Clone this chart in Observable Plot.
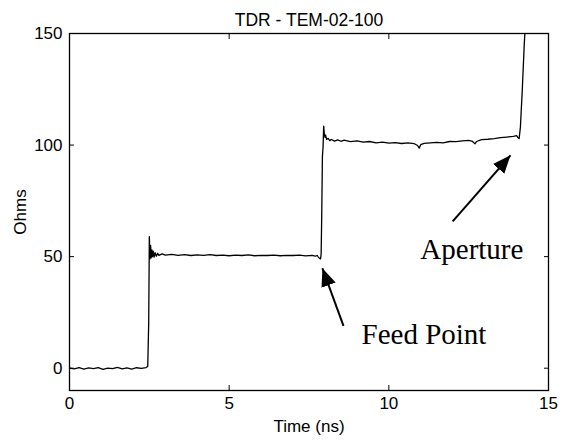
<!DOCTYPE html>
<html>
<head>
<meta charset="utf-8">
<script src="https://cdn.jsdelivr.net/npm/d3@7"></script>
<script src="https://cdn.jsdelivr.net/npm/@observablehq/plot@0.6"></script>
<style>
  html, body { margin: 0; padding: 0; background: #fff; }
  #chart svg { display: block; }
</style>
</head>
<body>
<div id="chart"></div>
<script>
// ---- Data ----
const titleText = ["TDR - TEM-02-100"];
const xTicks = [0, 5, 10, 15];
const yTicks = [0, 50, 100, 150];

const timeNs = [
  0.00, 0.15, 0.30, 0.45, 0.60, 0.75, 0.90, 1.05, 1.20, 1.35, 1.50, 1.65, 1.80, 1.95, 2.10, 2.25, 2.40, 2.45,
  2.48, 2.50, 2.52, 2.54, 2.56, 2.58, 2.60, 2.62, 2.65, 2.68, 2.72, 2.76, 2.80, 2.90, 3.00,
  3.20, 3.40, 3.60, 3.80, 4.00, 4.20, 4.40, 4.60, 4.80, 5.00, 5.20, 5.40, 5.60, 5.80, 6.00,
  6.20, 6.40, 6.60, 6.80, 7.00, 7.20, 7.40, 7.60, 7.70, 7.76, 7.80, 7.84, 7.86, 7.88,
  7.90, 7.92, 7.94, 7.96, 7.98, 8.00, 8.02, 8.05, 8.10, 8.15, 8.20, 8.30, 8.40, 8.50, 8.60,
  8.80, 9.00, 9.20, 9.40, 9.60, 9.80, 10.00, 10.20, 10.40, 10.60, 10.80, 10.90, 10.95, 11.00,
  11.10, 11.30, 11.50, 11.70, 11.90, 12.10, 12.30, 12.50, 12.60, 12.70, 12.75, 12.90, 13.10,
  13.30, 13.50, 13.70, 13.90, 14.00, 14.05, 14.08, 14.12, 14.18, 14.24, 14.28, 14.35
];
const ohms = [
  0.0, -0.3, 0.2, -0.4, 0.1, -0.2, 0.3, -0.5, 0.0, -0.2, 0.4, -0.3, 0.1, -0.4, 0.2, -0.1, 0.3, 0.8,
  20, 59, 49, 55, 49.5, 53, 50, 52.5, 49.8, 51.8, 50.2, 51.5, 50.6, 51.2, 50.7,
  51.0, 50.6, 50.9, 50.5, 50.8, 50.6, 50.9, 50.5, 50.7, 50.4, 50.7, 50.5, 50.8, 50.4, 50.6,
  50.5, 50.7, 50.4, 50.6, 50.5, 50.7, 50.3, 50.6, 50.2, 50.5, 49.6, 49.2, 49.0, 51,
  70, 95, 99, 108.5, 105, 103.5, 104.5, 102.5, 103, 102, 102.5, 101.8, 102.3, 101.7, 102.2,
  101.5, 101.9, 101.3, 101.6, 101.0, 101.3, 100.9, 101.1, 100.7, 101.0, 100.6, 99.8, 98.6, 100.2,
  100.8, 101.0, 101.2, 101.0, 101.6, 101.5, 101.9, 102.1, 101.8, 100.6, 101.6, 102.4, 102.6,
  102.9, 103.3, 103.6, 103.9, 104.2, 103.2, 102.9, 108, 125, 145, 155, 170
];

// annotations
const noteLabels = ["Feed Point", "Aperture"];
const noteX = [11.1, 12.6];
const noteY = [10.8, 49.0];
const arrowX1 = [8.58, 12.00];
const arrowY1 = [19.0, 65.8];
const arrowX2 = [7.92, 13.81];
const arrowY2 = [44.8, 95.4];

// ---- Build tables ----
const trace = timeNs.map((t, i) => ({t, v: ohms[i]}));
const notes = noteLabels.map((s, i) => ({s, x: noteX[i], y: noteY[i]}));
const arrows = arrowX1.map((x1, i) => ({x1, y1: arrowY1[i], x2: arrowX2[i], y2: arrowY2[i]}));

function triangleHead(color) {
  const m = d3.create("svg:marker")
    .attr("viewBox", "-18 -8 18 16")
    .attr("markerWidth", 18)
    .attr("markerHeight", 16)
    .attr("markerUnits", "userSpaceOnUse")
    .attr("refX", 0)
    .attr("refY", 0)
    .attr("orient", "auto");
  m.append("path").attr("d", "M-18,-7.5L0,0L-18,7.5Z").attr("fill", "black").attr("stroke", "none");
  return m.node();
}

const chart = Plot.plot({
  width: 567,
  height: 442,
  marginLeft: 69,
  marginRight: 19,
  marginTop: 33,
  marginBottom: 52,
  x: {domain: [0, 15]},
  y: {domain: [-10, 150]},
  style: {fontFamily: "'Liberation Sans', Arial, sans-serif", fontSize: "17px", background: "white", color: "black"},
  marks: [
    Plot.axisX(xTicks, {anchor: "bottom", tickSize: -5, tickPadding: 11, label: "Time (ns)", labelAnchor: "center", labelArrow: "none", labelOffset: 41, fontSize: 17}),
    Plot.axisX(xTicks, {anchor: "top", tickSize: -5, tickFormat: () => "", label: null}),
    Plot.axisY(yTicks, {anchor: "left", tickSize: -5, tickPadding: 12, label: "Ohms", labelAnchor: "center", labelArrow: "none", labelOffset: 56, fontSize: 17}),
    Plot.axisY(yTicks, {anchor: "right", tickSize: -5, tickFormat: () => "", label: null}),
    Plot.line(trace, {x: "t", y: "v", stroke: "black", strokeWidth: 1.3, clip: true}),
    Plot.frame({stroke: "black", strokeWidth: 1.3}),
    Plot.link(arrows, {x1: "x1", y1: "y1", x2: "x2", y2: "y2", stroke: "black", strokeWidth: 2, markerEnd: triangleHead}),
    Plot.text(notes, {x: "x", y: "y", text: "s", fontFamily: "'Liberation Serif', 'Times New Roman', serif", fontSize: 29, lineAnchor: "bottom", textAnchor: "middle"}),
    Plot.text(titleText, {frameAnchor: "top", dy: -20, fontSize: 17.5})
  ]
});
document.getElementById("chart").appendChild(chart);
</script>
</body>
</html>
